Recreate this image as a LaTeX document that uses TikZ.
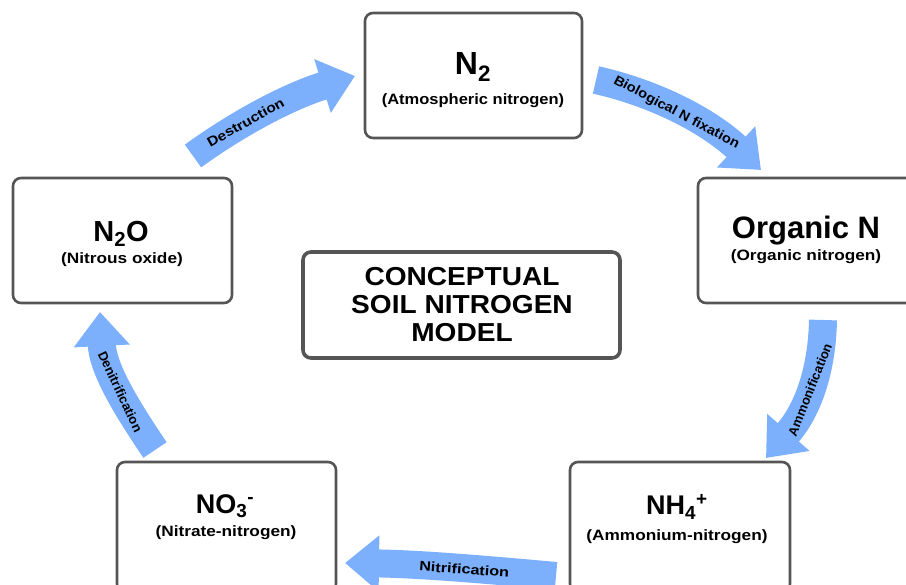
\documentclass[tikz,border=0pt]{standalone}
\usepackage{fontspec}
\setmainfont{Liberation Sans}
\usepackage{graphicx}
\usetikzlibrary{arrows.meta}
\definecolor{flowblue}{RGB}{125,176,252}
\definecolor{edgegray}{RGB}{85,85,85}
\newcommand{\wx}[2][1.15]{\scalebox{#1}[1]{#2}}
\begin{document}
\begin{tikzpicture}[x=1pt,y=-1pt,
  box/.style={draw=edgegray, line width=2.6pt, rounded corners=8pt, fill=white, inner sep=0pt},
  sub/.style={font=\bfseries\fontsize{15}{17}\selectfont, inner sep=0pt},
  flowarrow/.style={draw=flowblue, line width=28pt, -{Triangle[width=54pt,length=34pt]}},
  flowlabel/.style={font=\bfseries\fontsize{13.5}{15}\selectfont, sloped, inner sep=0pt, text=black}]
\useasboundingbox (0,0) rectangle (906,585);

% boxes
\node[box, minimum width=217pt, minimum height=125pt] (n2) at (473.5,75.5) {};
\node[box, minimum width=218pt, minimum height=125pt] (org) at (807,240.5) {};
\node[box, minimum width=219pt, minimum height=125pt] (n2o) at (122.5,240.5) {};
\node[box, minimum width=220pt, minimum height=130pt] (nh4) at (680,527) {};
\node[box, minimum width=219pt, minimum height=130pt] (no3) at (226.5,527) {};
\node[box, line width=3.6pt, minimum width=317pt, minimum height=106pt] (model) at (461.5,305) {};

% texts
\node[inner sep=0pt, font=\bfseries\fontsize{32}{34}\selectfont] (n2t) at (473,67) {N\textsubscript{2}};
\node[sub] (n2s) at (473,101) {\wx[1.1]{(Atmospheric nitrogen)}};
\node[inner sep=0pt, font=\bfseries\fontsize{31}{33}\selectfont] (orgt) at (806,231) {Organic N};
\node[sub] (orgs) at (806,257) {\wx{(Organic nitrogen)}};
\node[inner sep=0pt, font=\bfseries\fontsize{29}{31}\selectfont] (n2ot) at (121,234) {N\textsubscript{2}O};
\node[sub] (n2os) at (122,260) {\wx{(Nitrous oxide)}};
\node[inner sep=0pt, font=\bfseries\fontsize{27}{29}\selectfont] (nh4t) at (677,507) {NH\textsubscript{4}\textsuperscript{+}};
\node[sub] (nh4s) at (677,537) {\wx{(Ammonium-nitrogen)}};
\node[inner sep=0pt, font=\bfseries\fontsize{27}{29}\selectfont] (no3t) at (225,506) {NO\textsubscript{3}\textsuperscript{-}};
\node[sub] (no3s) at (226,533) {\wx{(Nitrate-nitrogen)}};
\node[inner sep=0pt, align=center, font=\bfseries\fontsize{26}{28}\selectfont] (modelt) at (462,305)
  {\wx[1.08]{CONCEPTUAL}\\\wx[1.08]{SOIL NITROGEN}\\\wx[1.08]{MODEL}};

% arrow end points
\coordinate (d0) at (193,156);  \coordinate (d1) at (355,76);
\coordinate (b0) at (596,80);   \coordinate (b1) at (761,170);
\coordinate (a0) at (823,320);  \coordinate (a1) at (766,458);
\coordinate (t0) at (556,576);  \coordinate (t1) at (345,563);
\coordinate (e0) at (155,450);  \coordinate (e1) at (100,312);

% arrows
\draw[flowarrow] (d0) .. controls (240,122) and (290,96) .. (d1)
  node[flowlabel, pos=0.36] {\wx{Destruction}};
\draw[flowarrow] (b0) .. controls (650,92) and (705,118) .. (b1)
  node[flowlabel, pos=0.5, yshift=-3pt] {\wx[1.08]{Biological N fixation}};
\draw[flowarrow] (a0) .. controls (822,370) and (808,410) .. (a1)
  node[flowlabel, pos=0.5, font=\bfseries\fontsize{13}{15}\selectfont] {Ammonification};
\draw[flowarrow] (t0) .. controls (490,570) and (420,564) .. (t1)
  node[flowlabel, pos=0.45, yshift=-1pt] {\wx[1.2]{Nitrification}};
\draw[flowarrow] (e0) .. controls (128,410) and (103,370) .. (e1)
  node[flowlabel, pos=0.47, font=\bfseries\fontsize{13}{15}\selectfont] {Denitrification};
\end{tikzpicture}
\end{document}
